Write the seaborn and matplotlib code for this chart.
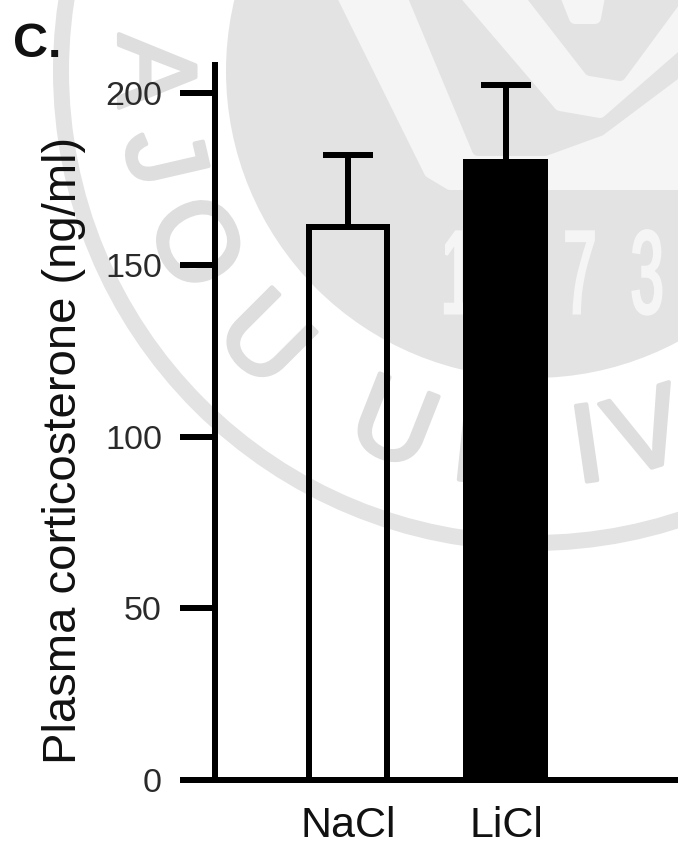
import matplotlib
matplotlib.use("Agg")
import matplotlib.pyplot as plt
import matplotlib.patheffects as pe
import seaborn as sns
import pandas as pd
from matplotlib.patches import Circle, Polygon, PathPatch
from matplotlib.textpath import TextPath
from matplotlib.font_manager import FontProperties
from matplotlib.transforms import Affine2D
import numpy as np

# ---- data -------------------------------------------------------------
groups = ["NaCl", "LiCl"]
means = [161, 180]          # plasma corticosterone, ng/ml
sems = [21, 22.5]           # upper error (SEM)
fills = ["none", "black"]
yticks = [0, 50, 100, 150, 200]
ylabel = "Plasma corticosterone (ng/ml)"
panel = "C."

# seal lettering around the ring and the year in the centre
seal_letters = ["A", "J", "O", "U", "U", "N", "I", "V"]
seal_angles = [180, 167, 153, 135, 111.5, 96, 81.8, 72.6]
seal_year = ["1", "9", "7", "3"]
seal_year_x = [458, 519, 580, 647]

# ---- style ------------------------------------------------------------
sns.set_style("ticks")
plt.rcParams["font.family"] = ["Liberation Sans", "DejaVu Sans"]

W, H = 678, 855
PT = 0.72                      # points per pixel at 100 dpi
fig = plt.figure(figsize=(W / 100, H / 100), dpi=100)

# ---- faint seal in the background (pixel coordinates) ----------------
wm = fig.add_axes([0, 0, 1, 1], zorder=0)
wm.set_xlim(0, W)
wm.set_ylim(H, 0)
wm.axis("off")

cx, cy = 533, 71
GRAY, LIGHT, INK = "#e3e3e3", "#f5f5f5", "#dedede"

disc = Circle((cx, cy), 307, fc=GRAY, ec="none")
wm.add_patch(disc)
wm.add_patch(Circle((cx, cy), 472, fc="none", ec=GRAY, lw=16 * PT))

emblem = [
    ([(335, -20), (430, 172), (450, 184), (700, 184), (700, -20)], LIGHT),
    ([(407, -20), (478, 150), (545, 150), (600, 130), (700, 55), (700, -20)], GRAY),
    ([(453, -20), (560, 105), (600, 112), (700, 25), (700, -20)], LIGHT),
    ([(520, -20), (590, 70), (620, 75), (690, -20)], GRAY),
    ([(560, -20), (575, 18), (595, 18), (602, -20)], LIGHT),
]
for pts, col in emblem:
    p = Polygon(pts, closed=True, fc=col, ec=col, lw=12 * PT, joinstyle="round")
    wm.add_patch(p)
    p.set_clip_path(disc)

for ch, ang in zip(seal_letters, seal_angles):
    a = np.deg2rad(ang)
    wm.text(cx + 385 * np.cos(a), cy + 385 * np.sin(a), ch, fontsize=80,
            color=INK, ha="center", va="center", rotation=90 - ang,
            rotation_mode="anchor",
            path_effects=[pe.withStroke(linewidth=3, foreground=INK)])

fp = FontProperties(family="Liberation Sans")
for d, x in zip(seal_year, seal_year_x):
    tp = TextPath((0, 0), d, size=118, prop=fp)
    ext = tp.get_extents()
    tr = Affine2D().translate(-(ext.x0 + ext.x1) / 2, 0).scale(0.5, -1).translate(x, 313)
    pp = PathPatch(tr.transform_path(tp), fc=LIGHT, ec=LIGHT, lw=3 * PT)
    wm.add_patch(pp)
    pp.set_clip_path(disc)

# ---- bar chart ----------------------------------------------------------
ax = fig.add_axes([215 / W, (H - 780) / H, (W - 215) / W, (780 - 65) / H], zorder=1)
ax.patch.set_alpha(0)

df = pd.DataFrame({"group": groups, "value": means})
sns.barplot(data=df, x="group", y="value", hue="group", palette=["white", "black"],
            legend=False, width=0.5, edgecolor="black", linewidth=6 * PT,
            errorbar=None, ax=ax, zorder=2)
for cont, fc in zip(ax.containers, fills):
    for bar in cont:
        bar.set_facecolor(fc)

ax.errorbar(x=range(len(groups)), y=means, yerr=[[0] * len(sems), sems],
            fmt="none", ecolor="black", elinewidth=6 * PT, capsize=18,
            capthick=6 * PT, zorder=3)

ax.set_xlim(-0.842, 2.089)
ax.set_ylim(0, 208.2)
ax.set_yticks(yticks)
ax.set_yticklabels([str(t) for t in yticks])
ax.set_xlabel("")
ax.set_ylabel("")

for side in ("top", "right"):
    ax.spines[side].set_visible(False)
for side in ("left", "bottom"):
    ax.spines[side].set_linewidth(6 * PT)
    ax.spines[side].set_color("black")

ax.tick_params(axis="y", length=35 * PT, width=6 * PT, pad=13,
               labelsize=24.6, labelcolor="#2a2a2a", color="black")
ax.tick_params(axis="x", length=0, pad=19, labelsize=31, labelcolor="#111111")

fig.text(64 / W, 1 - 450 / H, ylabel, rotation=90, ha="center", va="center",
         fontsize=34, color="#111111")
fig.text(13 / W, 1 - 57 / H, panel, ha="left", va="baseline", fontsize=35,
         fontweight="bold", color="#111111")

fig.savefig("out.png", dpi=100)
